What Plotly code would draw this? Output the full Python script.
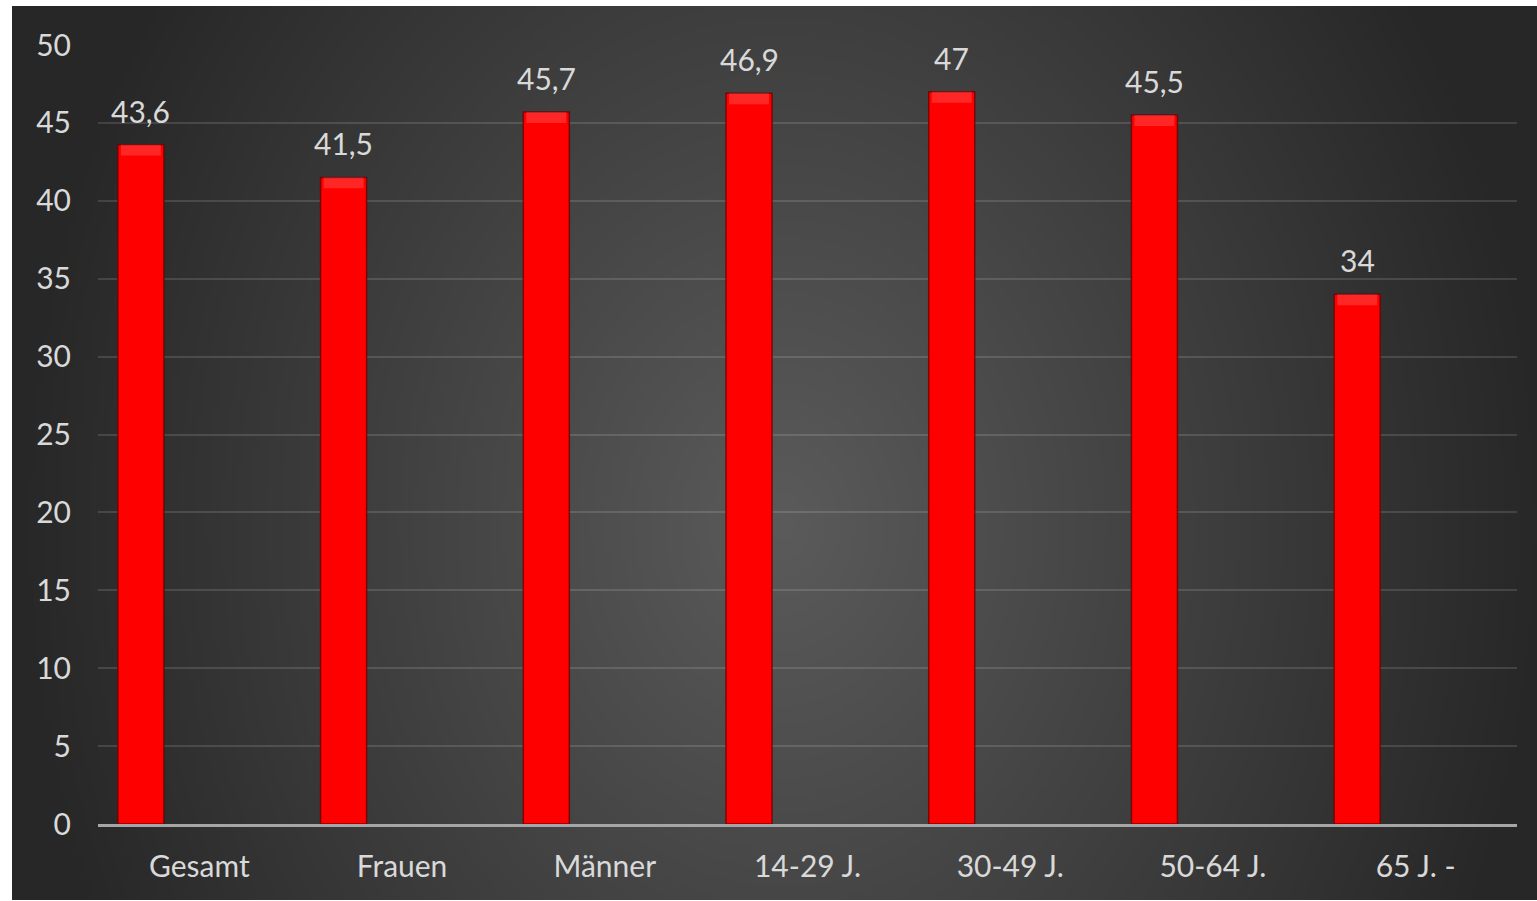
import base64
import struct
import zlib

import numpy as np
import plotly.graph_objects as go

# ---- data ----
categories = ["Gesamt", "Frauen", "Männer", "14-29 J.", "30-49 J.", "50-64 J.", "65 J. -"]
values = [43.6, 41.5, 45.7, 46.9, 47, 45.5, 34]
y_ticks = [0, 5, 10, 15, 20, 25, 30, 35, 40, 45, 50]


def fmt(v):
    if float(v).is_integer():
        return str(int(v))
    return str(v).replace(".", ",")


# ---- background radial gradient (decorative) ----
def png_gray(arr):
    h, w = arr.shape
    raw = b"".join(b"\x00" + arr[i].tobytes() for i in range(h))

    def chunk(t, d):
        return struct.pack(">I", len(d)) + t + d + struct.pack(">I", zlib.crc32(t + d) & 0xFFFFFFFF)

    ihdr = struct.pack(">IIBBBBB", w, h, 8, 0, 0, 0, 0)
    return b"\x89PNG\r\n\x1a\n" + chunk(b"IHDR", ihdr) + chunk(b"IDAT", zlib.compress(raw, 9)) + chunk(b"IEND", b"")


W, H = 1525, 895
sw, sh = 381, 224
xs = np.linspace(0, W, sw)[None, :]
ys = np.linspace(0, H, sh)[:, None]
d = np.sqrt(((xs - 770) / 770.0) ** 2 + ((ys - 520) / 950.0) ** 2)
img = (91 - 52 * np.clip(d, 0, 1)).astype(np.uint8)
bg_uri = "data:image/png;base64," + base64.b64encode(png_gray(img)).decode()

# ---- figure geometry ----
ML, MR, MT, MB = 98, 20, 45, 77
FW, FH = 1537, 901
pw, ph = FW - ML - MR, FH - MT - MB

bar_offset = -0.402
bar_width = 0.227
bevel = 0.7

fig = go.Figure()
fig.add_trace(go.Bar(
    x=categories, y=values,
    offset=bar_offset, width=bar_width,
    marker=dict(color="#ff0000", line=dict(color="rgba(110,0,0,0.8)", width=1.5)),
    hoverinfo="x+y",
))
fig.add_trace(go.Bar(
    x=categories, y=[bevel] * len(values),
    base=[v - bevel for v in values],
    offset=bar_offset + 0.015, width=bar_width - 0.03,
    marker=dict(color="rgba(255,150,150,0.25)", line=dict(width=0)),
    hoverinfo="skip",
))

for i, v in enumerate(values):
    fig.add_annotation(
        x=i + bar_offset + bar_width / 2, y=v, text=fmt(v),
        showarrow=False, yshift=34, yanchor="middle", xanchor="center",
        font=dict(family="Lato, Open Sans, sans-serif", size=30, color="#d9d9d9"),
    )

fig.add_layout_image(dict(
    source=bg_uri, xref="paper", yref="paper",
    x=(12 - ML) / pw, y=(FH - MB - 6) / ph,
    sizex=(FW - 12) / pw, sizey=(FH - 7) / ph,
    xanchor="left", yanchor="top", sizing="stretch", layer="below",
))

fig.update_layout(
    width=FW, height=FH,
    margin=dict(l=ML, r=MR, t=MT, b=MB, pad=0),
    paper_bgcolor="white",
    plot_bgcolor="rgba(0,0,0,0)",
    barmode="overlay",
    showlegend=False,
    font=dict(family="Lato, Open Sans, sans-serif", size=30, color="#d9d9d9"),
    xaxis=dict(
        type="category", range=[-0.5, len(categories) - 0.5],
        showgrid=False, showline=True, linecolor="#a6a6a6", linewidth=2.5,
        ticks="", ticklabelstandoff=14, zeroline=False,
        tickfont=dict(size=30, color="#d9d9d9"),
    ),
    yaxis=dict(
        range=[0, 50], tickvals=y_ticks, ticktext=[str(t) for t in y_ticks],
        showgrid=True, gridcolor="rgba(255,255,255,0.13)", gridwidth=2,
        zeroline=False, showline=False, ticks="", ticklabelstandoff=26,
        tickfont=dict(size=30, color="#d9d9d9"),
    ),
)

fig.write_html(
    "out.html",
    config={"displayModeBar": False},
    post_script="document.body.style.margin='0';document.body.style.padding='0';",
)
